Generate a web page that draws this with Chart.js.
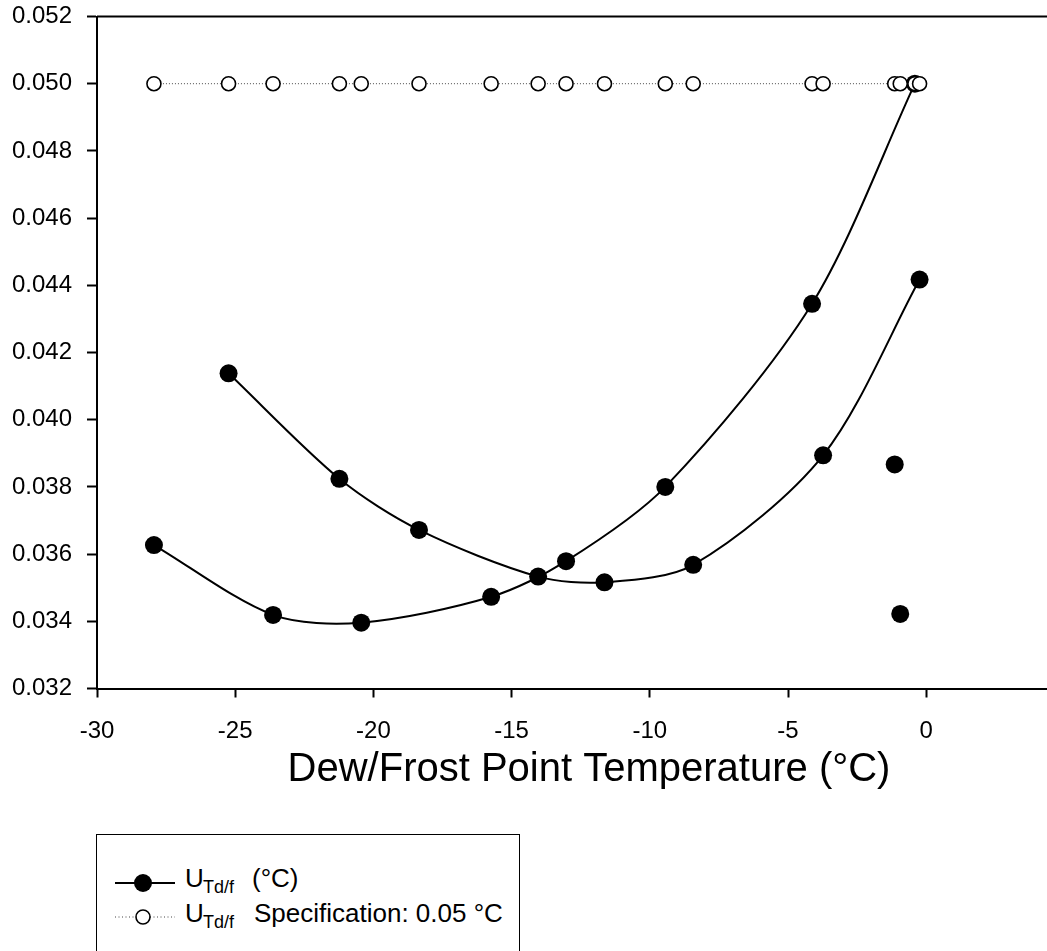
<!DOCTYPE html>
<html>
<head>
<meta charset="utf-8">
<script src="https://cdn.jsdelivr.net/npm/chart.js@4.4.1/dist/chart.umd.min.js"></script>
<style>
  html, body { margin: 0; padding: 0; background: #fff; overflow: hidden; width: 1047px; height: 951px; }
  #wrap { position: absolute; left: 0; top: 0; width: 1090px; height: 800px; }
  #legend { position: absolute; left: 96px; top: 834px; width: 424px; height: 160px; border: 1.5px solid #000; box-sizing: border-box; font-family: "Liberation Sans", Arial, sans-serif; color: #000; }
  #legend .t { position: absolute; white-space: nowrap; font-size: 26px; line-height: 26px; }
  #legend .s { position: absolute; white-space: nowrap; font-size: 18px; line-height: 18px; }
  #legend svg { position: absolute; left: 0; top: 0; }
</style>
</head>
<body>
<div id="wrap"><canvas id="c" width="1090" height="800"></canvas></div>
<div id="legend">
  <svg width="100" height="120" viewBox="0 0 100 120">
    <line x1="18" y1="48" x2="78" y2="48" stroke="#000" stroke-width="1.8"/>
    <circle cx="46" cy="48" r="9" fill="#000"/>
    <line x1="18" y1="82" x2="78" y2="82" stroke="#444" stroke-width="1" stroke-dasharray="1,2.5"/>
    <circle cx="46" cy="82" r="7" fill="#fff" stroke="#000" stroke-width="1.6"/>
  </svg>
  <span class="t" style="left:88px; top:30px;">U</span>
  <span class="s" style="left:106px; top:43px;">Td/f</span>
  <span class="t" style="left:155px; top:30px;">(°C)</span>
  <span class="t" style="left:88px; top:65px;">U</span>
  <span class="s" style="left:106px; top:78px;">Td/f</span>
  <span class="t" style="left:157px; top:65px;">Specification: 0.05 °C</span>
</div>
<script>
// ---- data ----
const runATemps  = [-27.94, -23.63, -20.44, -15.74, -13.03, -9.44, -4.13, -0.41];
const runAValues = [0.03627, 0.03419, 0.03396, 0.03473, 0.03579, 0.03800, 0.04345, 0.05000];

const runBTemps  = [-25.24, -21.23, -18.35, -14.04, -11.64, -8.43, -3.73, -0.24];
const runBValues = [0.04138, 0.03824, 0.03672, 0.03533, 0.03516, 0.03568, 0.03894, 0.04417];

const extraTemps  = [-1.14, -0.94];
const extraValues = [0.03867, 0.03422];

const specTemps  = [-27.94, -25.24, -23.63, -21.23, -20.44, -18.35, -15.74, -14.04, -13.03,
                    -11.64, -9.44, -8.43, -4.13, -3.73, -1.14, -0.94, -0.41, -0.24];
const specValues = [0.05, 0.05, 0.05, 0.05, 0.05, 0.05, 0.05, 0.05, 0.05,
                    0.05, 0.05, 0.05, 0.05, 0.05, 0.05, 0.05, 0.05, 0.05];

const xTickValues = [-30, -25, -20, -15, -10, -5, 0];

const pts = (xs, ys) => xs.map((x, i) => ({ x: x, y: ys[i] }));

const FONT = '"Liberation Sans", Arial, sans-serif';

const filledStyle = {
  borderColor: '#000', borderWidth: 2,
  pointRadius: 9, pointHoverRadius: 9,
  pointBackgroundColor: '#000', pointBorderColor: '#000', pointBorderWidth: 0,
  tension: 0.3, showLine: true, fill: false, order: 2
};

const framePlugin = {
  id: 'frame',
  afterDraw(chart) {
    const { ctx, chartArea: a } = chart;
    ctx.save();
    ctx.strokeStyle = '#000';
    ctx.lineWidth = 2;
    ctx.beginPath();
    ctx.moveTo(a.left, a.top);
    ctx.lineTo(a.right, a.top);
    ctx.lineTo(a.right, a.bottom);
    ctx.stroke();
    ctx.restore();
  }
};

new Chart(document.getElementById('c'), {
  type: 'scatter',
  data: {
    datasets: [
      Object.assign({ label: 'runA', data: pts(runATemps, runAValues) }, filledStyle),
      Object.assign({ label: 'runB', data: pts(runBTemps, runBValues) }, filledStyle),
      Object.assign({ label: 'extra', data: pts(extraTemps, extraValues) }, filledStyle, { showLine: false }),
      {
        label: 'spec', data: pts(specTemps, specValues),
        showLine: true, borderColor: 'rgba(0,0,0,0.7)', borderWidth: 1, borderDash: [1, 2],
        pointRadius: 7, pointHoverRadius: 7,
        pointBackgroundColor: '#fff', pointBorderColor: '#000', pointBorderWidth: 1.6,
        tension: 0, fill: false, order: 0
      }
    ]
  },
  options: {
    responsive: false,
    animation: false,
    devicePixelRatio: 1,
    layout: { padding: { top: 16.5, right: 2, left: 0, bottom: 0 } },
    plugins: { legend: { display: false }, tooltip: { enabled: false } },
    scales: {
      x: {
        type: 'linear', min: -30, max: 5.6,
        afterFit: s => { s.height = 111.5; s.paddingLeft = 0; s.paddingRight = 0; },
        afterBuildTicks: s => { s.ticks = xTickValues.map(v => ({ value: v })); },
        grid: { drawOnChartArea: false, drawTicks: true, tickLength: 9, tickColor: '#000', tickWidth: 2 },
        border: { display: true, color: '#000', width: 2 },
        ticks: { color: '#000', font: { family: FONT, size: 24 }, padding: 19, maxRotation: 0,
                 callback: v => String(v) },
        title: { display: true, text: 'Dew/Frost Point Temperature (°C)', color: '#000',
                 font: { family: FONT, size: 40 }, padding: { top: 0, bottom: 6 } }
      },
      y: {
        type: 'linear', min: 0.032, max: 0.052,
        afterFit: s => { s.width = 97; s.paddingTop = 0; s.paddingBottom = 0; },
        grid: { drawOnChartArea: false, drawTicks: true, tickLength: 10, tickColor: '#000', tickWidth: 2 },
        border: { display: true, color: '#000', width: 2 },
        ticks: { stepSize: 0.002, color: '#000', font: { family: FONT, size: 24 }, padding: 15,
                 callback: v => Number(v).toFixed(3) }
      }
    }
  },
  plugins: [framePlugin]
});
</script>
</body>
</html>
